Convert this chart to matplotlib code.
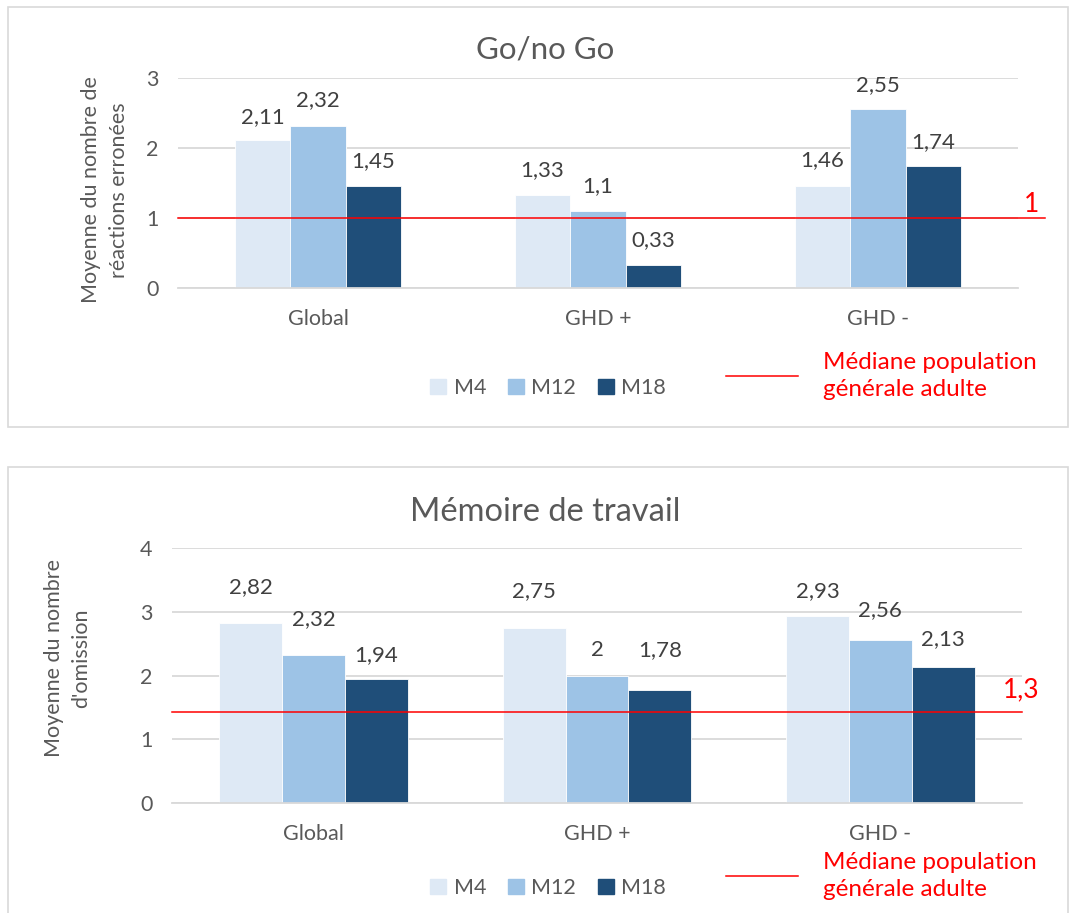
import matplotlib
matplotlib.use("Agg")
import matplotlib.pyplot as plt
from matplotlib.patches import Rectangle, Patch
from matplotlib.lines import Line2D

plt.rcParams['font.family'] = ['Lato', 'DejaVu Sans']

# data
categories = ["Global", "GHD +", "GHD -"]
series = ["M4", "M12", "M18"]
colors = ["#dee9f5", "#9dc3e6", "#1f4e79"]

gonogo = {
    "M4": [2.11, 1.33, 1.46],
    "M12": [2.32, 1.10, 2.55],
    "M18": [1.45, 0.33, 1.74],
}
memoire = {
    "M4": [2.82, 2.75, 2.93],
    "M12": [2.32, 2.00, 2.56],
    "M18": [1.94, 1.78, 2.13],
}
gonogo_median = 1.0
gonogo_median_txt = "1"
memoire_median = 1.42
memoire_median_txt = "1,3"

# label offsets above the bars (pixels), same order as the data
gonogo_offsets = {"M4": [23, 25, 26], "M12": [26, 25, 24], "M18": [25, 25, 24]}
memoire_offsets = {"M4": [36, 37, 25], "M12": [36, 25, 30], "M18": [24, 39, 28]}

W, H = 1069, 913
fig = plt.figure(figsize=(W / 100, H / 100), dpi=100)

GREY = "#595959"
GRID = "#d9d9d9"


def fx(px):
    return px / W


def fy(py):
    return 1 - py / H


# panel frames
fig.patches.append(Rectangle((fx(8), fy(427)), fx(1060), 420 / H, transform=fig.transFigure,
                             fill=False, edgecolor="#d9d9d9", lw=1.2))
fig.patches.append(Rectangle((fx(8), fy(930)), fx(1060), 463 / H, transform=fig.transFigure,
                             fill=False, edgecolor="#d9d9d9", lw=1.2, clip_on=False))


def draw_panel(rect, data, offsets, ymax, width, median, median_txt, med_xmax,
               med_txt_pos, title, title_y, title_size, ylabel, ylabel_pos, legend_y):
    ax = fig.add_axes(rect)
    for i, s in enumerate(series):
        xs = [k + (i - 1) * width for k in range(len(categories))]
        ax.bar(xs, data[s], width, color=colors[i], edgecolor="white", lw=0.6, zorder=2, label=s)
        for x, v, off in zip(xs, data[s], offsets[s]):
            lbl = f"{v:g}".replace(".", ",")
            ax.annotate(lbl, (x, v), xytext=(0, off), textcoords="offset pixels",
                        ha="center", va="center", fontsize=16, color="#404040")
    ax.set_xlim(-0.5, 2.5)
    ax.set_ylim(0, ymax)
    ax.set_yticks(range(ymax + 1))
    ax.yaxis.grid(True, color=GRID, lw=1.3, zorder=0)
    ax.set_axisbelow(True)
    for sp in ["top", "right", "left"]:
        ax.spines[sp].set_visible(False)
    ax.spines["bottom"].set_color(GRID)
    ax.spines["bottom"].set_linewidth(1.3)
    ax.tick_params(axis="both", length=0, labelsize=15.5, colors=GREY, pad=14)
    ax.set_xticks(range(len(categories)))
    ax.set_xticklabels(categories)
    ax.tick_params(axis="x", pad=15)
    ax.axhline(median, xmin=0, xmax=med_xmax, color="#ff0000", lw=1.1, zorder=3, clip_on=False)
    fig.text(fx(med_txt_pos[0]), fy(med_txt_pos[1]), median_txt, color="#ff0000",
             fontsize=19, ha="left", va="center")
    fig.text(fx(545), fy(title_y), title, ha="center", va="center",
             fontsize=title_size, color=GREY)
    fig.text(fx(ylabel_pos[0]), fy(ylabel_pos[1]), ylabel, rotation=90, ha="center",
             va="center", fontsize=15.5, color=GREY, linespacing=1.45)
    handles = [Patch(color=c, label=s) for c, s in zip(colors, series)]
    fig.legend(handles=handles, loc="center", bbox_to_anchor=(fx(548), fy(legend_y)),
               ncol=3, frameon=False, fontsize=15.5, labelcolor=GREY, handlelength=0.75,
               handleheight=0.75, handletextpad=0.35, columnspacing=1.0)
    leg = fig.legend(handles=[Line2D([], [], color="#ff0000", lw=1.1)],
                     labels=["Médiane population\ngénérale adulte"], loc="center",
                     bbox_to_anchor=(fx(881), fy(legend_y - 12)), frameon=False, fontsize=17.5,
                     labelcolor="#ff0000", handlelength=3.0, handletextpad=1.0, borderpad=0.2)
    leg.get_texts()[0].set_linespacing(1.35)
    return ax


draw_panel([fx(178), fy(288), fx(840), 210 / H], gonogo, gonogo_offsets, 3, 0.198,
           gonogo_median, gonogo_median_txt, (1045 - 178) / 840, (1024, 204),
           "Go/no Go", 50, 22.5, "Moyenne du nombre de\nréactions erronées", (105, 190), 388)

draw_panel([fx(172), fy(803), fx(850), 255 / H], memoire, memoire_offsets, 4, 0.222,
           memoire_median, memoire_median_txt, 1.0, (1003, 690),
           "Mémoire de travail", 512, 23.5, "Moyenne du nombre\nd'omission", (68, 658), 888)

fig.savefig("out.png", dpi=100)
